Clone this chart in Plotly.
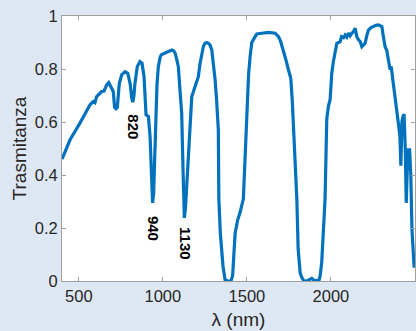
import numpy as np
import plotly.graph_objects as go

wavelength = [400, 448, 507, 567, 586, 596, 606, 636, 650, 666, 678, 690, 698, 705, 713, 722, 729,
              741, 755, 775, 791, 805, 815, 821, 828, 834, 848, 864, 876, 888, 900, 914, 924, 932,
              939, 945, 955, 965, 973, 985, 993, 1023, 1053, 1065, 1073, 1085, 1092, 1102, 1112,
              1120, 1128, 1135, 1145, 1152, 1162, 1172, 1182, 1192, 1201, 1211, 1221, 1231, 1241,
              1251, 1261, 1271, 1281, 1291, 1301, 1311, 1320, 1330, 1333, 1342, 1358, 1370, 1385,
              1405, 1415, 1430, 1445, 1460, 1479, 1490, 1499, 1510, 1519, 1529, 1549, 1559, 1590,
              1628, 1668, 1688, 1700, 1717, 1732, 1747, 1761, 1770, 1777, 1787, 1797, 1805, 1817,
              1827, 1840, 1857, 1870, 1886, 1900, 1916, 1930, 1936, 1945, 1955, 1965, 1975, 1985,
              1995, 2005, 2015, 2025, 2035, 2045, 2055, 2063, 2075, 2084, 2094, 2104, 2114, 2124,
              2134, 2144, 2154, 2164, 2174, 2184, 2193, 2203, 2213, 2223, 2238, 2253, 2268, 2283,
              2295, 2303, 2312, 2322, 2332, 2342, 2347, 2352, 2358, 2362, 2368, 2375, 2382, 2392,
              2398, 2402, 2410, 2416, 2422, 2428, 2435, 2442, 2448, 2453, 2458, 2468, 2475, 2482,
              2491, 2495]
transmittance = [0.46, 0.533, 0.596, 0.665, 0.677, 0.673, 0.696, 0.715, 0.717, 0.74, 0.749, 0.734,
                 0.728, 0.715, 0.655, 0.65, 0.655, 0.746, 0.778, 0.79, 0.784, 0.746, 0.69, 0.675,
                 0.70, 0.746, 0.809, 0.828, 0.822, 0.771, 0.627, 0.621, 0.545, 0.40, 0.295, 0.33,
                 0.55, 0.74, 0.809, 0.847, 0.855, 0.862, 0.872, 0.868, 0.86, 0.83, 0.809, 0.72,
                 0.634, 0.42, 0.238, 0.28, 0.40, 0.445, 0.60, 0.696, 0.715, 0.734, 0.75, 0.771,
                 0.82, 0.86, 0.885, 0.897, 0.9, 0.897, 0.89, 0.872, 0.82, 0.759, 0.68, 0.571, 0.31,
                 0.18, 0.055, 0.005, 0.0, 0.0, 0.02, 0.18, 0.23, 0.26, 0.31, 0.5, 0.634, 0.78, 0.847,
                 0.9, 0.922, 0.932, 0.935, 0.938, 0.935, 0.922, 0.905, 0.872, 0.835, 0.797, 0.765,
                 0.68, 0.583, 0.45, 0.31, 0.12, 0.03, 0.013, 0.0, 0.0, 0.005, 0.01, 0.003, 0.0,
                 0.005, 0.02, 0.07, 0.206, 0.31, 0.61, 0.66, 0.684, 0.784, 0.83, 0.86, 0.897, 0.9,
                 0.903, 0.922, 0.918, 0.928, 0.92, 0.935, 0.925, 0.935, 0.941, 0.954, 0.922, 0.91,
                 0.903, 0.884, 0.89, 0.897, 0.925, 0.947, 0.956, 0.962, 0.965, 0.966, 0.963, 0.96,
                 0.922, 0.884, 0.87, 0.834, 0.81, 0.797, 0.81, 0.79, 0.771, 0.73, 0.696, 0.66,
                 0.62, 0.60, 0.55, 0.435, 0.60, 0.62, 0.63, 0.50, 0.295, 0.40, 0.495, 0.495, 0.40,
                 0.194, 0.056, 0.05]

band_labels = ["820", "940", "1130"]
x_ticks = [500, 1000, 1500, 2000]
y_ticks = [0, 0.2, 0.4, 0.6, 0.8, 1]
y_tick_text = ["0", "0.2", "0.4", "0.6", "0.8", "1"]

BG = "#dee8f4"
FONT = "Liberation Sans, Arial, sans-serif"
TXT = "#262626"

fig = go.Figure()
fig.add_trace(go.Scatter(x=wavelength, y=transmittance, mode="lines",
                         line=dict(color="#0072BD", width=3.2), showlegend=False))

wl = np.array(wavelength, dtype=float)
tr = np.array(transmittance, dtype=float)
for lab in band_labels:
    xv = float(lab)
    mask = (wl > xv - 15) & (wl < xv + 15)
    ymin = tr[mask].min()
    fig.add_annotation(x=xv + 8, y=ymin - 0.095, text="<b>%s</b>" % lab, showarrow=False,
                       textangle=90, xanchor="center", yanchor="middle",
                       font=dict(family=FONT, size=15, color="#000000"))

axis_common = dict(showline=True, linecolor="#a0a0a0", linewidth=1, mirror="allticks",
                   ticks="inside", ticklen=4, tickcolor="#a0a0a0", showgrid=False,
                   zeroline=False, tickfont=dict(family=FONT, size=16.5, color=TXT))

fig.update_layout(
    width=416, height=331,
    margin=dict(l=62, r=1, t=16, b=50),
    paper_bgcolor=BG, plot_bgcolor="white",
    xaxis=dict(range=[400, 2500], tickvals=x_ticks,
               title=dict(text="λ (nm)", font=dict(family=FONT, size=19, color=TXT), standoff=8),
               **axis_common),
    yaxis=dict(range=[0, 1], tickvals=y_ticks, ticktext=y_tick_text,
               title=dict(text="Trasmitanza", font=dict(family=FONT, size=19, color=TXT), standoff=3),
               **axis_common),
)

fig.write_html("out.html")
